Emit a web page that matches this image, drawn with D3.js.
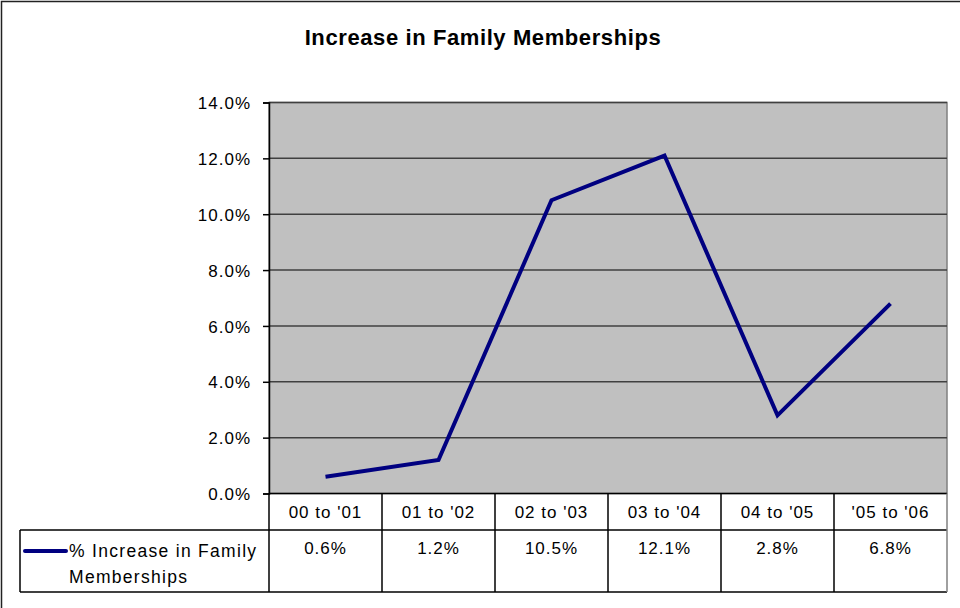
<!DOCTYPE html>
<html>
<head>
<meta charset="utf-8">
<script src="https://cdn.jsdelivr.net/npm/d3@7"></script>
<style>
  body { margin: 0; background: #fff; }
  svg text { font-family: "Liberation Sans", Arial, sans-serif; }
</style>
</head>
<body>
<svg id="chart" width="960" height="608"></svg>
<script>
// DATA
const categories = ["00 to '01", "01 to '02", "02 to '03", "03 to '04", "04 to '05", "'05 to '06"];
const increase = [0.006, 0.012, 0.105, 0.121, 0.028, 0.068];
const yTicks = [0, 0.02, 0.04, 0.06, 0.08, 0.10, 0.12, 0.14];
const seriesName = ["% Increase in Family", "Memberships"];
const title = "Increase in Family Memberships";

const svg = d3.select('#chart');

// outer frame (right/bottom edges run off the picture)
svg.append('rect')
  .attr('x', 1.5).attr('y', 1.5)
  .attr('width', 1000).attr('height', 1000)
  .attr('fill', 'none')
  .attr('stroke', '#222')
  .attr('stroke-width', 1.5);

// title
svg.append('text')
  .attr('x', 483).attr('y', 45)
  .attr('text-anchor', 'middle')
  .attr('font-size', 22)
  .attr('font-weight', 'bold')
  .attr('letter-spacing', 0.6)
  .text(title);

// scales
const plotL = 269, plotR = 947, plotT = 102.5, plotB = 493.5;
let x = d3.scaleBand()
  .domain(categories)
  .range([plotL, plotR]);
let y = d3.scaleLinear()
  .domain([0, 0.14])
  .range([plotB, plotT]);

// plot area
svg.append('rect')
  .attr('x', plotL).attr('y', plotT)
  .attr('width', plotR - plotL).attr('height', plotB - plotT)
  .attr('fill', '#c0c0c0')
  .attr('stroke', '#808080')
  .attr('stroke-width', 1.5);

// gridlines
svg.append('g')
  .selectAll('line')
  .data(yTicks.slice(1))
  .enter().append('line')
  .attr('x1', plotL).attr('x2', plotR)
  .attr('y1', d => y(d)).attr('y2', d => y(d))
  .attr('stroke', '#404040')
  .attr('stroke-width', 1.5);

// y axis
svg.append('g')
  .attr('transform', `translate(${plotL},0)`)
  .call(d3.axisLeft(y).tickValues(yTicks).tickFormat(d3.format('.1%')).tickSize(6).tickPadding(12))
  .call(g => g.select('.domain').attr('stroke', '#000').attr('stroke-width', 1.5))
  .call(g => g.selectAll('.tick line').attr('stroke', '#000').attr('stroke-width', 1.5))
  .call(g => g.selectAll('.tick text')
    .attr('font-family', '"Liberation Sans", Arial, sans-serif')
    .attr('font-size', 17)
    .attr('letter-spacing', 1)
    .attr('fill', '#000')
    .attr('dy', '0.36em'));

// series line
let line = d3.line()
  .x((d, i) => x(categories[i]) + x.bandwidth() / 2)
  .y(d => y(d));

svg.append('path')
  .datum(increase)
  .attr('d', line)
  .attr('fill', 'none')
  .attr('stroke', '#000080')
  .attr('stroke-width', 4)
  .attr('stroke-linejoin', 'miter');

// data table
const rowMid = 530, rowBot = 592, legendLeft = 20;
let table = svg.append('g').attr('class', 'data-table');

table.append('line')
  .attr('x1', plotL).attr('x2', plotR)
  .attr('y1', plotB).attr('y2', plotB)
  .attr('stroke', '#000').attr('stroke-width', 1.5);
[rowMid, rowBot].forEach(yy => {
  table.append('line')
    .attr('x1', legendLeft).attr('x2', plotR)
    .attr('y1', yy).attr('y2', yy)
    .attr('stroke', '#000').attr('stroke-width', 1.5);
});
table.append('line')
  .attr('x1', legendLeft).attr('x2', legendLeft)
  .attr('y1', rowMid).attr('y2', rowBot)
  .attr('stroke', '#000').attr('stroke-width', 1.5);

table.selectAll('line.col')
  .data(categories)
  .enter().append('line')
  .attr('class', 'col')
  .attr('x1', d => x(d)).attr('x2', d => x(d))
  .attr('y1', plotB).attr('y2', rowBot)
  .attr('stroke', '#000').attr('stroke-width', 1.5);
table.append('line')
  .attr('x1', plotR).attr('x2', plotR)
  .attr('y1', plotB).attr('y2', rowBot)
  .attr('stroke', '#808080').attr('stroke-width', 1.5);

// category labels
table.selectAll('text.cat')
  .data(categories)
  .enter().append('text')
  .attr('class', 'cat')
  .attr('x', d => x(d) + x.bandwidth() / 2)
  .attr('y', 518)
  .attr('text-anchor', 'middle')
  .attr('font-size', 17)
  .attr('letter-spacing', 1)
  .text(d => d);

// values
table.selectAll('text.val')
  .data(increase)
  .enter().append('text')
  .attr('class', 'val')
  .attr('x', (d, i) => x(categories[i]) + x.bandwidth() / 2)
  .attr('y', 554)
  .attr('text-anchor', 'middle')
  .attr('font-size', 17)
  .attr('letter-spacing', 1)
  .text(d => d3.format('.1%')(d));

// legend key
table.append('line')
  .attr('x1', 25).attr('x2', 66)
  .attr('y1', 551).attr('y2', 551)
  .attr('stroke', '#000080')
  .attr('stroke-width', 4)
  .attr('stroke-linecap', 'round');

table.selectAll('text.legend')
  .data(seriesName)
  .enter().append('text')
  .attr('class', 'legend')
  .attr('x', 69)
  .attr('y', (d, i) => 557 + i * 26)
  .attr('font-size', 17.5)
  .attr('letter-spacing', 1.3)
  .text(d => d);
</script>
</body>
</html>
